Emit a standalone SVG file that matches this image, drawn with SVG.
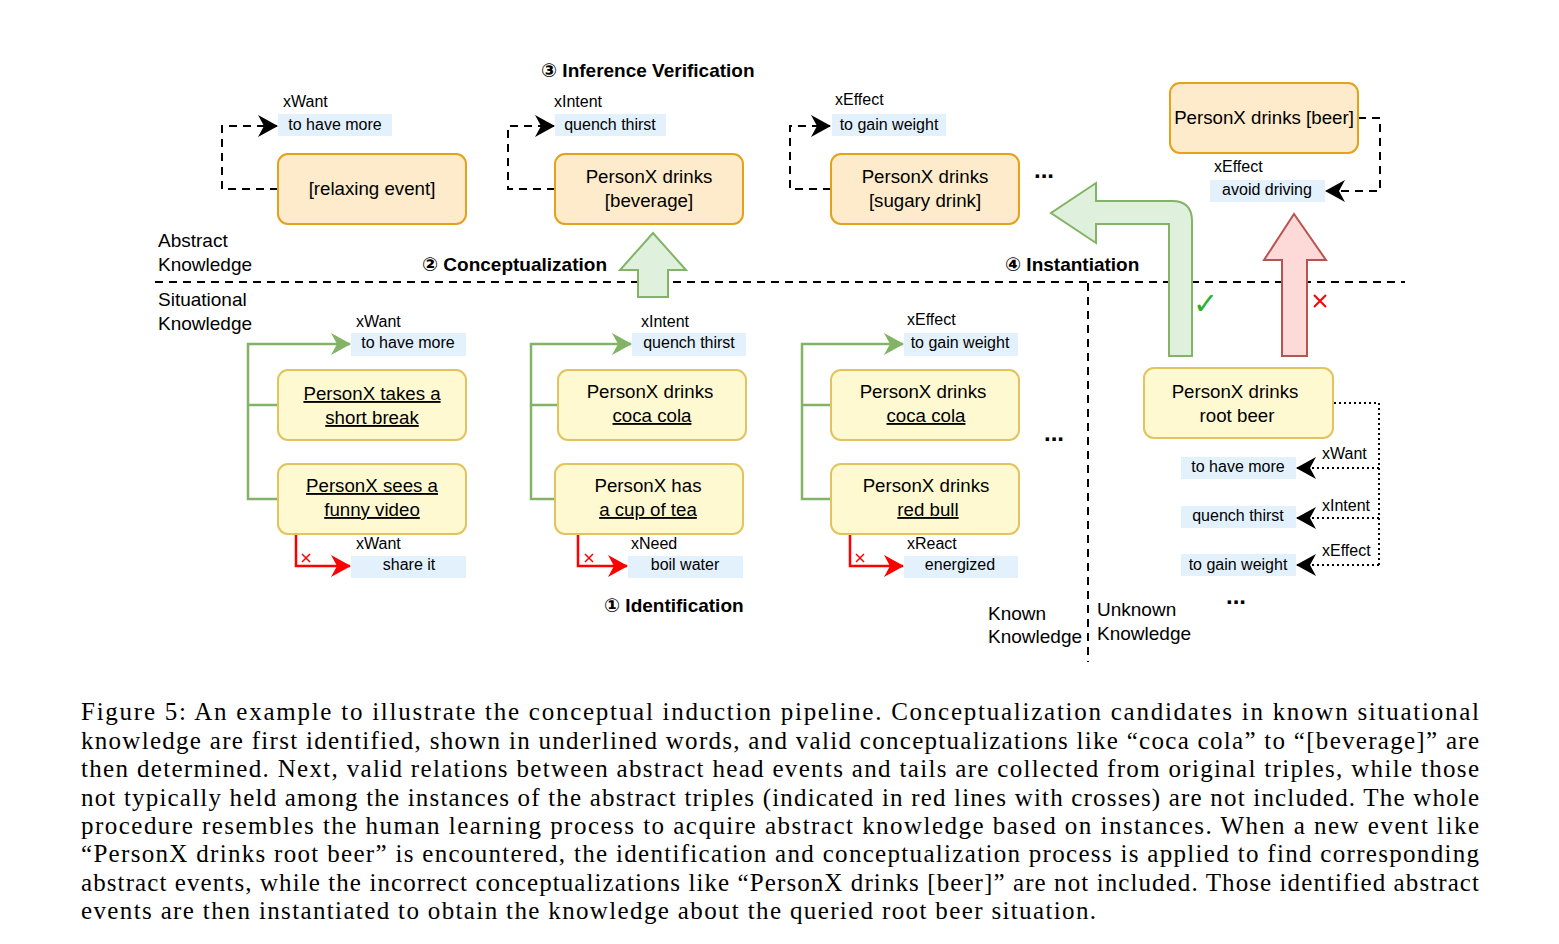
<svg xmlns="http://www.w3.org/2000/svg" width="1559" height="944" viewBox="0 0 1559 944">
<style>
text{font-family:"Liberation Sans",Arial,"DejaVu Sans",sans-serif;fill:#000}
.abs{fill:#fdebcc;stroke:#e3a21a;stroke-width:2}
.sit{fill:#fff9d2;stroke:#e3c35f;stroke-width:2}
.nt{font-size:18.7px;text-anchor:middle}
.lbl{font-size:16px}
.tail{fill:#e3f1fd}
.tt{font-size:16px;text-anchor:middle}
.ttl{font-size:19px;font-weight:bold}
.dots{font-size:24px;font-weight:bold}
.side{font-size:19px}
.dash{fill:none;stroke:#000;stroke-width:2;stroke-dasharray:8 6}
.dot{fill:none;stroke:#000;stroke-width:2;stroke-dasharray:2 3}
.grn{fill:none;stroke:#82b366;stroke-width:2.5}
.red{fill:none;stroke:#ff0000;stroke-width:2.5}
.u{text-decoration:underline}
.cap{font-family:"Liberation Serif","Times New Roman",serif;font-size:25px}
</style>
<defs>
<marker id="ab" markerUnits="userSpaceOnUse" markerWidth="20" markerHeight="22" viewBox="0 0 20 22" refX="19" refY="11" orient="auto"><path d="M0,0 L20,11 L0,22 L6,11 Z" fill="#000"/></marker>
<marker id="ag" markerUnits="userSpaceOnUse" markerWidth="20" markerHeight="22" viewBox="0 0 20 22" refX="19" refY="11" orient="auto"><path d="M0,0 L20,11 L0,22 L6,11 Z" fill="#82b366"/></marker>
<marker id="ar" markerUnits="userSpaceOnUse" markerWidth="20" markerHeight="22" viewBox="0 0 20 22" refX="19" refY="11" orient="auto"><path d="M0,0 L20,11 L0,22 L6,11 Z" fill="#ff0000"/></marker>
</defs>
<rect width="1559" height="944" fill="#fff"/>

<!-- section titles and side labels -->
<text class="ttl" x="541" y="77">③ Inference Verification</text>
<text class="ttl" x="422" y="271">② Conceptualization</text>
<text class="ttl" x="1005" y="271">④ Instantiation</text>
<text class="ttl" x="604" y="612">① Identification</text>
<text class="side" x="158" y="247">Abstract</text>
<text class="side" x="158" y="271">Knowledge</text>
<text class="side" x="158" y="306">Situational</text>
<text class="side" x="158" y="330">Knowledge</text>
<text class="side" x="988" y="620">Known</text>
<text class="side" x="988" y="643">Knowledge</text>
<text class="side" x="1097" y="616">Unknown</text>
<text class="side" x="1097" y="640">Knowledge</text>
<text class="dots" x="1034" y="178">...</text>
<text class="dots" x="1044" y="441">...</text>
<text class="dots" x="1226" y="604">...</text>

<!-- connectors -->
<g id="connectors">
<line class="dash" x1="155" y1="282" x2="1405" y2="282"/>
<line class="dash" x1="1088" y1="283" x2="1088" y2="662"/>
<path class="dash" d="M278,189 H222 V126 H277" marker-end="url(#ab)"/>
<path class="dash" d="M555,189 H508 V126 H554" marker-end="url(#ab)"/>
<path class="dash" d="M831,189 H790 V126 H830" marker-end="url(#ab)"/>
<path class="dash" d="M1358,118 H1380 V191 H1326" marker-end="url(#ab)"/>
<path class="grn" d="M278,405 H248 M278,499 H248 V344 H350" marker-end="url(#ag)"/>
<path class="grn" d="M558,405 H531 M555,499 H531 V344 H631" marker-end="url(#ag)"/>
<path class="grn" d="M831,405 H802 M831,499 H802 V344 H903" marker-end="url(#ag)"/>
<path class="red" d="M296,535 V566 H350" marker-end="url(#ar)"/>
<path class="red" d="M578,535 V566 H627" marker-end="url(#ar)"/>
<path class="red" d="M850,535 V566 H903" marker-end="url(#ar)"/>
<path class="dot" d="M1334,403 H1379 V565"/>
<path class="dot" d="M1379,468 H1297" marker-end="url(#ab)"/>
<path class="dot" d="M1379,518 H1297" marker-end="url(#ab)"/>
<path class="dot" d="M1379,565 H1297" marker-end="url(#ab)"/>
<g fill="none" stroke="#ff0000" stroke-width="1.5">
<path d="M302,554 L310,562 M310,554 L302,562"/>
<path d="M585,554 L593,562 M593,554 L585,562"/>
<path d="M856,554 L864,562 M864,554 L856,562"/>
<path d="M1314,295 L1326,307 M1326,295 L1314,307" stroke-width="2"/>
</g>
<text x="1193" y="314" font-size="30" font-weight="bold" style="fill:#2db02d;font-family:'DejaVu Sans',sans-serif">✓</text>
<path d="M638,297 V270 H620 L653,233 L686,270 H668 V297 Z" fill="#dff1dc" stroke="#82b366" stroke-width="2"/>
<path d="M1169,356 V224 H1096 V243 L1051,213 L1096,183 V201 H1172 Q1192,201 1192,221 V356 Z" fill="#dff1dc" stroke="#82b366" stroke-width="2"/>
<path d="M1282,356 V260 H1264 L1294,214 L1326,260 H1307 V356 Z" fill="#fdd9d7" stroke="#b85450" stroke-width="2"/>
</g>

<!-- tail labels -->
<g id="tails">
<text class="lbl" x="283" y="107">xWant</text>
<rect class="tail" x="278" y="114" width="114" height="22"/><text class="tt" x="335" y="130">to have more</text>
<text class="lbl" x="554" y="107">xIntent</text>
<rect class="tail" x="555" y="114" width="111" height="22"/><text class="tt" x="610" y="130">quench thirst</text>
<text class="lbl" x="835" y="105">xEffect</text>
<rect class="tail" x="832" y="114" width="114" height="22"/><text class="tt" x="889" y="130">to gain weight</text>
<text class="lbl" x="1214" y="172">xEffect</text>
<rect class="tail" x="1210" y="180" width="115" height="22"/><text class="tt" x="1267" y="195">avoid driving</text>

<text class="lbl" x="356" y="327">xWant</text>
<rect class="tail" x="351" y="333" width="115" height="23"/><text class="tt" x="408" y="348">to have more</text>
<text class="lbl" x="356" y="549">xWant</text>
<rect class="tail" x="351" y="556" width="115" height="22"/><text class="tt" x="409" y="570">share it</text>
<text class="lbl" x="641" y="327">xIntent</text>
<rect class="tail" x="632" y="333" width="114" height="23"/><text class="tt" x="689" y="348">quench thirst</text>
<text class="lbl" x="631" y="549">xNeed</text>
<rect class="tail" x="628" y="556" width="115" height="22"/><text class="tt" x="685" y="570">boil water</text>
<text class="lbl" x="907" y="325">xEffect</text>
<rect class="tail" x="904" y="333" width="114" height="23"/><text class="tt" x="960" y="348">to gain weight</text>
<text class="lbl" x="907" y="549">xReact</text>
<rect class="tail" x="904" y="556" width="114" height="22"/><text class="tt" x="960" y="570">energized</text>

<text class="lbl" x="1322" y="459">xWant</text>
<rect class="tail" x="1181" y="457" width="115" height="22"/><text class="tt" x="1238" y="472">to have more</text>
<text class="lbl" x="1322" y="511">xIntent</text>
<rect class="tail" x="1181" y="506" width="115" height="22"/><text class="tt" x="1238" y="521">quench thirst</text>
<text class="lbl" x="1322" y="556">xEffect</text>
<rect class="tail" x="1181" y="554" width="115" height="22"/><text class="tt" x="1238" y="570">to gain weight</text>
</g>

<!-- abstract nodes -->
<g id="n-relaxing"><rect class="abs" x="278" y="154" width="188" height="70" rx="10"/><text class="nt" x="372" y="195">[relaxing event]</text></g>
<g id="n-beverage"><rect class="abs" x="555" y="154" width="188" height="70" rx="10"/><text class="nt" x="649" y="183">PersonX drinks</text><text class="nt" x="649" y="207">[beverage]</text></g>
<g id="n-sugary"><rect class="abs" x="831" y="154" width="188" height="70" rx="10"/><text class="nt" x="925" y="183">PersonX drinks</text><text class="nt" x="925" y="207">[sugary drink]</text></g>
<g id="n-beer"><rect class="abs" x="1170" y="83" width="188" height="70" rx="10"/><text class="nt" x="1264" y="124">PersonX drinks [beer]</text></g>

<!-- situational nodes -->
<g id="n-break"><rect class="sit" x="278" y="370" width="188" height="70" rx="10"/><text class="nt u" x="372" y="400">PersonX takes a</text><text class="nt u" x="372" y="424">short break</text></g>
<g id="n-video"><rect class="sit" x="278" y="464" width="188" height="70" rx="10"/><text class="nt u" x="372" y="492">PersonX sees a</text><text class="nt u" x="372" y="516">funny video</text></g>
<g id="n-cola1"><rect class="sit" x="558" y="370" width="188" height="70" rx="10"/><text class="nt" x="650" y="398">PersonX drinks</text><text class="nt u" x="652" y="422">coca cola</text></g>
<g id="n-tea"><rect class="sit" x="555" y="464" width="188" height="70" rx="10"/><text class="nt" x="648" y="492">PersonX has</text><text class="nt u" x="648" y="516">a cup of tea</text></g>
<g id="n-cola2"><rect class="sit" x="831" y="370" width="188" height="70" rx="10"/><text class="nt" x="923" y="398">PersonX drinks</text><text class="nt u" x="926" y="422">coca cola</text></g>
<g id="n-redbull"><rect class="sit" x="831" y="464" width="188" height="70" rx="10"/><text class="nt" x="926" y="492">PersonX drinks</text><text class="nt u" x="928" y="516">red bull</text></g>
<g id="n-rootbeer"><rect class="sit" x="1144" y="368" width="189" height="70" rx="10"/><text class="nt" x="1235" y="398">PersonX drinks</text><text class="nt" x="1237" y="422">root beer</text></g>

<!-- caption -->
<g id="caption">
<text class="cap" x="81" y="720" textLength="1398" lengthAdjust="spacing">Figure 5:  An example to illustrate the conceptual induction pipeline.  Conceptualization candidates in known situational</text>
<text class="cap" x="81" y="749" textLength="1398" lengthAdjust="spacing">knowledge are first identified, shown in underlined words, and valid conceptualizations like “coca cola” to “[beverage]” are</text>
<text class="cap" x="81" y="777" textLength="1398" lengthAdjust="spacing">then determined.  Next, valid relations between abstract head events and tails are collected from original triples, while those</text>
<text class="cap" x="81" y="806" textLength="1398" lengthAdjust="spacing">not typically held among the instances of the abstract triples (indicated in red lines with crosses) are not included. The whole</text>
<text class="cap" x="81" y="834" textLength="1398" lengthAdjust="spacing">procedure resembles the human learning process to acquire abstract knowledge based on instances.  When a new event like</text>
<text class="cap" x="81" y="862" textLength="1398" lengthAdjust="spacing">“PersonX drinks root beer” is encountered, the identification and conceptualization process is applied to find corresponding</text>
<text class="cap" x="81" y="891" textLength="1398" lengthAdjust="spacing">abstract events, while the incorrect conceptualizations like “PersonX drinks [beer]” are not included. Those identified abstract</text>
<text class="cap" x="81" y="919" textLength="1015" lengthAdjust="spacing">events are then instantiated to obtain the knowledge about the queried root beer situation.</text>
</g>
</svg>
